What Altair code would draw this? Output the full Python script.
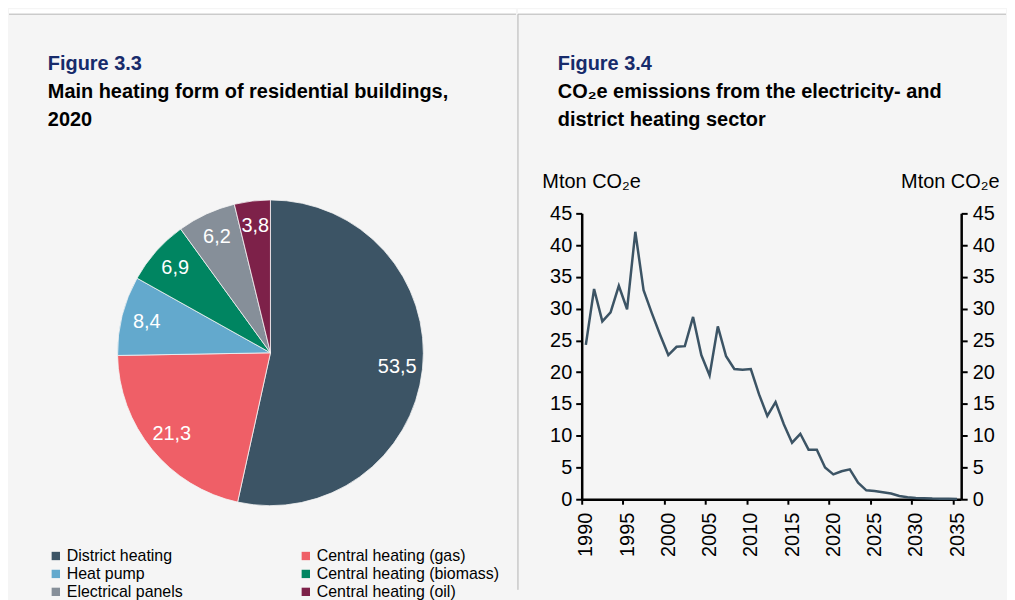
import altair as alt
import pandas as pd

FONT = "Liberation Sans"

# ---- Figure 3.3 data ----
categories = ["District heating", "Central heating (gas)", "Heat pump",
              "Central heating (biomass)", "Electrical panels", "Central heating (oil)"]
shares = [53.5, 21.3, 8.4, 6.9, 6.2, 3.8]
colors = ["#3c5465", "#ef5f67", "#63a9cd", "#008561", "#868f99", "#7d2149"]

# ---- Figure 3.4 data ----
years = list(range(1990, 2036))
emissions = [24.3, 33.1, 28.0, 29.4, 33.6, 29.9, 42.1, 32.9, 29.3, 25.9,
             22.7, 24.0, 24.1, 28.7, 22.7, 19.5, 27.2, 22.5, 20.5, 20.4,
             20.5, 16.5, 13.1, 15.3, 11.8, 8.9, 10.3, 7.8, 7.8, 5.0,
             3.9, 4.4, 4.7, 2.6, 1.4, 1.3, 1.1, 0.9, 0.5, 0.3,
             0.2, 0.15, 0.1, 0.08, 0.06, 0.05]
x_ticks = [1990, 1995, 2000, 2005, 2010, 2015, 2020, 2025, 2030, 2035]
y_ticks = [0, 5, 10, 15, 20, 25, 30, 35, 40, 45]

pie_df = pd.DataFrame({
    "category": categories,
    "share": shares,
    "idx": list(range(len(categories))),
    "label": [f"{v:.1f}".replace(".", ",") for v in shares],
})
line_df = pd.DataFrame({"year": years, "value": emissions})
dummy = pd.DataFrame({"a": [0]})

NAVY = "#172b6b"
LEFT_W = 509
LEFT_H = 378
RIGHT_W = 381
RIGHT_H = 287
PIE_CX = 262.5
PIE_CY = 140

def title_params(t, sub, dx):
    return alt.TitleParams(
        text=t, subtitle=sub, anchor="start", frame="group", dx=dx, offset=-121,
        color=NAVY, font=FONT, fontSize=20, fontWeight="bold",
        subtitleColor="black", subtitleFont=FONT, subtitleFontSize=20,
        subtitleFontWeight="bold", subtitleLineHeight=28, subtitlePadding=8,
    )

# ---------- left panel: pie ----------
theta = alt.Theta("share:Q", stack=True)
order = alt.Order("idx:Q")

pie = alt.Chart(pie_df).mark_arc(radius=153.5, stroke="#f5f5f5", strokeWidth=0.8).encode(
    theta=theta,
    order=order,
    x=alt.value(PIE_CX),
    y=alt.value(PIE_CY),
    color=alt.Color(
        "category:N",
        scale=alt.Scale(domain=categories, range=colors),
        legend=alt.Legend(
            title=None, orient="none", legendX=39, legendY=336, columns=2,
            direction="horizontal",
            symbolType="square", symbolSize=70, symbolStrokeWidth=0,
            labelFont=FONT, labelFontSize=16, labelColor="black",
            labelOffset=3, rowPadding=2, columnPadding=115, labelLimit=400,
        ),
    ),
)
pie_labels = alt.Chart(pie_df).mark_text(
    radius=128, font=FONT, fontSize=20, color="white"
).encode(
    theta=theta, order=order, text="label:N",
    x=alt.value(PIE_CX), y=alt.value(PIE_CY),
)
left_strip = alt.Chart(dummy).mark_rect(color="white").encode(
    x=alt.value(0), x2=alt.value(LEFT_W), y=alt.value(-205), y2=alt.value(-200))
left_rule = alt.Chart(dummy).mark_rule(color="#b4b4b4", strokeWidth=1).encode(
    x=alt.value(0), x2=alt.value(LEFT_W), y=alt.value(-200))

left = alt.layer(left_strip, left_rule, pie, pie_labels).properties(
    width=LEFT_W, height=LEFT_H,
    title=title_params("Figure 3.3", ["Main heating form of residential buildings,", "2020"], 39),
)

# ---------- right panel: line ----------
half = RIGHT_W / 46 / 2
axis_common = dict(
    domainColor="black", domainWidth=2.5, tickColor="black", tickWidth=2,
    labelFont=FONT, labelFontSize=20, labelColor="black", grid=False,
)
x_enc = alt.X(
    "year:Q",
    scale=alt.Scale(domain=[1989.5, 2035.5], nice=False, zero=False),
    axis=alt.Axis(values=x_ticks, title=None, labelAngle=270, format="d",
                  tickOffset=-half, labelOffset=half, tickSize=5, labelPadding=8,
                  labelAlign="right", labelBaseline="middle", **axis_common),
)
y_scale = alt.Scale(domain=[0, 45], nice=False)

line = alt.Chart(line_df).mark_line(color="#3c5465", strokeWidth=2.5).encode(
    x=x_enc,
    y=alt.Y("value:Q", scale=y_scale, axis=alt.Axis(
        orient="left", values=y_ticks, title="Mton CO₂e", titleAngle=0,
        titleAlign="left", titleBaseline="alphabetic", titleX=-40, titleY=-26,
        titleFont=FONT, titleFontSize=20, titleFontWeight="normal", titleColor="black",
        tickSize=6, labelPadding=4, **axis_common)),
)
line_right = alt.Chart(line_df).mark_line(opacity=0).encode(
    x=alt.X("year:Q"),
    y=alt.Y("value:Q", scale=y_scale, axis=alt.Axis(
        orient="right", values=y_ticks, title="Mton CO₂e", titleAngle=0,
        titleAlign="right", titleBaseline="alphabetic", titleX=38, titleY=-26,
        titleFont=FONT, titleFontSize=20, titleFontWeight="normal", titleColor="black",
        tickSize=6, labelPadding=5, **axis_common)),
)
right_strip = alt.Chart(dummy).mark_rect(color="white").encode(
    x=alt.value(-64), x2=alt.value(426), y=alt.value(-205), y2=alt.value(-200))
right_rule = alt.Chart(dummy).mark_rule(color="#b4b4b4", strokeWidth=1).encode(
    x=alt.value(-64), x2=alt.value(426), y=alt.value(-200))
divider = alt.Chart(dummy).mark_rule(color="#b4b4b4", strokeWidth=1).encode(
    x=alt.value(-64), y=alt.value(-200), y2=alt.value(378))

right = alt.layer(right_strip, right_rule, divider, line, line_right).resolve_scale(
    y="independent"
).properties(
    width=RIGHT_W, height=RIGHT_H,
    title=title_params("Figure 3.4",
                       ["CO₂e emissions from the electricity- and", "district heating sector"], -24),
)

chart = alt.hconcat(left, right, spacing=0).properties(
    background="#f5f5f5",
    padding={"left": 0, "top": 0, "right": 0, "bottom": 0},
).configure_view(stroke=None)

chart.save("out.html", embed_options={"renderer": "svg", "actions": False})
